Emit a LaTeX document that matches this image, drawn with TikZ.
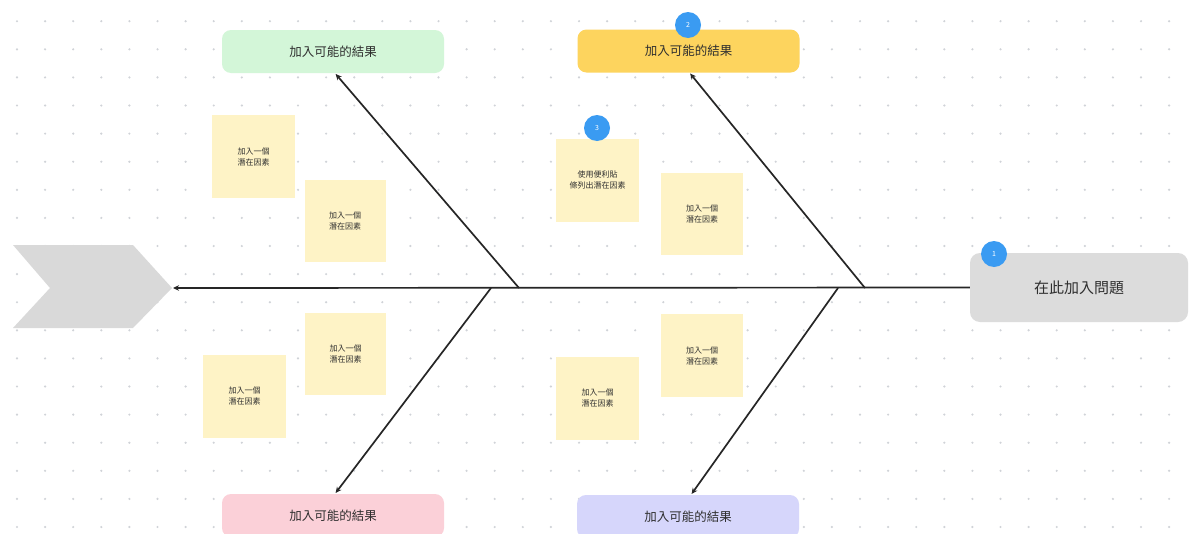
\documentclass[tikz,border=0pt]{standalone}
\usepackage{fontspec}
\setmainfont{Noto Sans CJK TC}
\usetikzlibrary{arrows.meta}
\definecolor{labeltext}{HTML}{2F2F2F}
\definecolor{linegray}{HTML}{262626}
\definecolor{dotgray}{HTML}{D0D3D8}
\definecolor{headgray}{HTML}{D9D9D9}
\definecolor{probfill}{HTML}{DCDCDC}
\definecolor{stickyfill}{HTML}{FEF3C6}
\definecolor{badgeblue}{HTML}{3A9BF2}
\definecolor{effgreen}{HTML}{D3F6D8}
\definecolor{effyellow}{HTML}{FDD45E}
\definecolor{effpink}{HTML}{FBD0D8}
\definecolor{effviolet}{HTML}{D6D6FB}
\begin{document}
\begin{tikzpicture}[x=1pt,y=-1pt,
  effect/.style={rounded corners=9pt, minimum width=222pt, minimum height=43pt, inner sep=0pt, font=\fontsize{12.5}{15}\selectfont, text=labeltext},
  problem/.style={rounded corners=10pt, fill=probfill, minimum width=218pt, minimum height=69pt, inner sep=0pt, font=\fontsize{15}{18}\selectfont, text=labeltext},
  sticky/.style={fill=stickyfill, minimum width=83pt, minimum height=83pt, inner sep=0pt, align=center, font=\fontsize{8}{11}\selectfont, text=labeltext},
  badge/.style={circle, fill=badgeblue, minimum size=26pt, inner sep=0pt, text=white, font=\fontsize{7}{8}\selectfont},
  bone/.style={draw=linegray, line width=1.7pt, -{Stealth[length=6pt,width=5.5pt]}, shorten >=1pt},
]
\useasboundingbox (0,0) rectangle (1189,533);
\fill[white] (0,0) rectangle (1189,533);
% dot grid
\foreach \i in {0,...,41}{
  \foreach \j in {0,...,18}{
    \fill[dotgray] (17+28.1*\i, 21.2+28.1*\j) circle (1.2);
  }
}
% head chevron
\fill[headgray] (13,245) -- (133,245) -- (172,288) -- (133,328) -- (13,328) -- (50,288) -- cycle;
\coordinate (headtip) at (172,288);
% problem
\node[problem] (prob) at (1079,287.5) {在此加入問題};
\node[badge] (b1) at (994,254) {1};
% effects
\node[effect, fill=effgreen] (effA) at (333,51.5) {加入可能的結果};
\node[effect, fill=effyellow] (effB) at (688.5,51) {加入可能的結果};
\node[effect, fill=effpink] (effC) at (333,515.5) {加入可能的結果};
\node[effect, fill=effviolet] (effD) at (688,516.5) {加入可能的結果};
\node[badge] (b2) at (688,25) {2};
% stickies
\node[sticky] (s1) at (253.5,156.5) {加入一個\\潛在因素};
\node[sticky, minimum width=81pt, minimum height=82pt] (s2) at (345,221) {加入一個\\潛在因素};
\node[sticky] (s3) at (597.5,180) {使用便利貼\\條列出潛在因素};
\node[badge] (b3) at (597,128) {3};
\node[sticky, minimum width=82pt, minimum height=82pt] (s4) at (702,214) {加入一個\\潛在因素};
\node[sticky, minimum width=81pt, minimum height=82pt] (s5) at (345.5,354) {加入一個\\潛在因素};
\node[sticky] (s6) at (244.5,396) {加入一個\\潛在因素};
\node[sticky, minimum width=82pt] (s7) at (702,355.5) {加入一個\\潛在因素};
\node[sticky] (s8) at (597.5,398) {加入一個\\潛在因素};
% junctions on spine
\coordinate (j1) at (519,288);
\coordinate (j2) at (865,288);
\coordinate (j3) at (491,288);
\coordinate (j4) at (838,288);
% spine and bones
\draw[bone] (prob.west) -- (headtip);
\draw[bone] (j1) -- ([xshift=2pt]effA.south);
\draw[bone] (j2) -- ([xshift=1pt]effB.south);
\draw[bone] (j3) -- ([xshift=2pt]effC.north);
\draw[bone] (j4) -- ([xshift=3pt]effD.north);
\end{tikzpicture}
\end{document}
